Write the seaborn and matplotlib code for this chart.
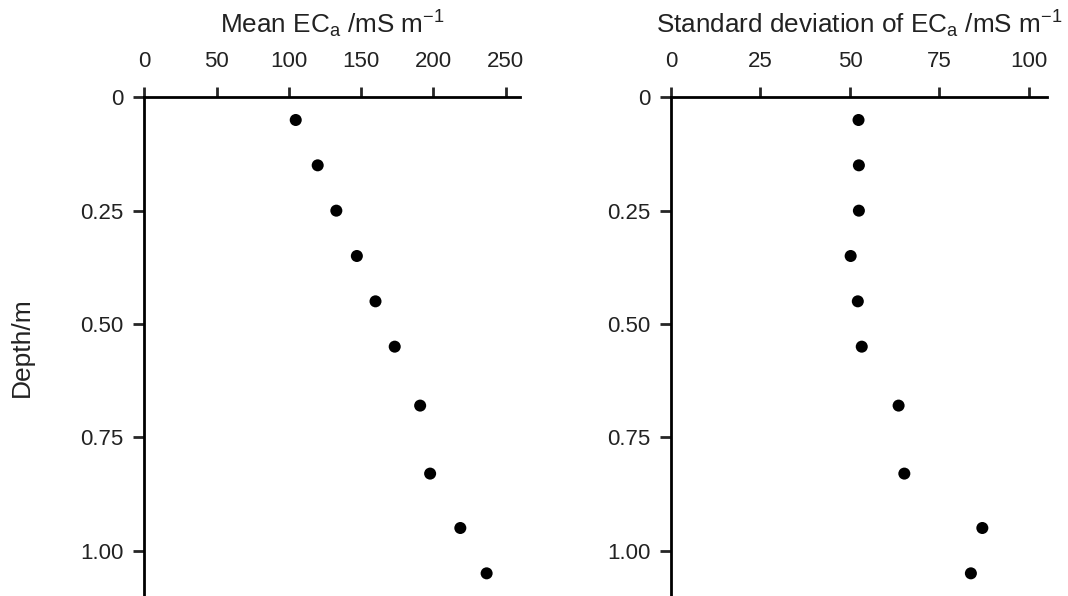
import matplotlib
matplotlib.use("Agg")
import matplotlib.pyplot as plt
import seaborn as sns
import pandas as pd

# Soil apparent electrical conductivity profile by depth
depth_m = [0.05, 0.15, 0.25, 0.35, 0.45, 0.55, 0.68, 0.83, 0.95, 1.05]
mean_eca = [104.8, 120.0, 132.9, 147.1, 160.0, 173.3, 190.9, 197.8, 218.7, 236.9]
sd_eca = [52.4, 52.5, 52.5, 50.2, 52.2, 53.3, 63.6, 65.2, 87.0, 83.8]

mean_ticks = [0, 50, 100, 150, 200, 250]
sd_ticks = [0, 25, 50, 75, 100]
depth_ticks = [0, 0.25, 0.50, 0.75, 1.00]
depth_labels = ["0", "0.25", "0.50", "0.75", "1.00"]

df = pd.DataFrame({"depth": depth_m, "mean": mean_eca, "sd": sd_eca})

sns.set_theme(style="ticks")
plt.rcParams["font.family"] = ["Liberation Sans", "DejaVu Sans"]
plt.rcParams["mathtext.fontset"] = "custom"
plt.rcParams["mathtext.rm"] = "Liberation Sans"
plt.rcParams["mathtext.it"] = "Liberation Sans"

fig = plt.figure(figsize=(10.68, 5.96), dpi=100)
ax1 = fig.add_axes([0.1351, 0.0, 0.3518, 0.8367])
ax2 = fig.add_axes([0.6283, 0.0, 0.3518, 0.8367])

panels = [
    (ax1, "mean", mean_ticks, (0, 260), r"Mean EC$_{\mathrm{a}}$ /mS m$^{\mathrm{-1}}$"),
    (ax2, "sd", sd_ticks, (0, 105), r"Standard deviation of EC$_{\mathrm{a}}$ /mS m$^{\mathrm{-1}}$"),
]

text_color = "#222222"

for ax, col, xticks, xlim, label in panels:
    sns.scatterplot(data=df, x=col, y="depth", ax=ax, color="black",
                    s=75, edgecolor="none", linewidth=0)
    ax.set_xlim(*xlim)
    ax.set_ylim(1.1, 0)
    ax.set_xticks(xticks)
    ax.set_xticklabels([str(t) for t in xticks])
    ax.set_yticks(depth_ticks)
    ax.set_yticklabels(depth_labels)
    ax.xaxis.tick_top()
    ax.xaxis.set_label_position("top")
    ax.set_xlabel(label, fontsize=18.8, labelpad=13, color=text_color)
    ax.set_ylabel("")
    for side in ("bottom", "right"):
        ax.spines[side].set_visible(False)
    for side in ("top", "left"):
        ax.spines[side].set_linewidth(2.0)
        ax.spines[side].set_color("black")
    ax.tick_params(axis="x", direction="out", length=7.5, width=2.0,
                   pad=10.5, labelsize=16, labelcolor=text_color)
    ax.tick_params(axis="y", direction="out", length=8, width=2.0,
                   pad=7, labelsize=16, labelcolor=text_color)
    ax.set_facecolor("white")

ax1.set_ylabel("Depth/m", fontsize=19, labelpad=33, color=text_color)

fig.savefig("out.png", dpi=100, facecolor="white")
